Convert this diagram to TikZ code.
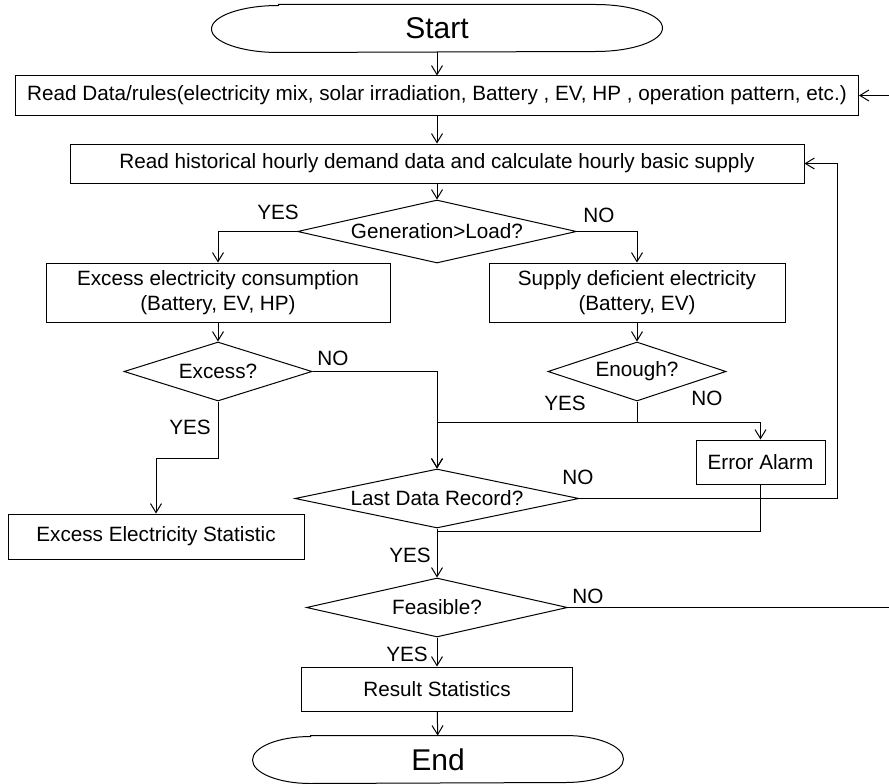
\documentclass[tikz,border=0pt]{standalone}
\usepackage{fontspec}
\setmainfont{Liberation Sans}
\usetikzlibrary{shapes.geometric, arrows.meta}

\newcommand{\lbl}{\fontsize{20.7pt}{25pt}\selectfont}
\newcommand{\termfont}{\fontsize{30pt}{30pt}\selectfont}
% outline of a start/end node: flat top and bottom, elliptic ends
\newcommand{\capsule}[2]{%
	\draw ([xshift=#2]#1.north west) -- ([xshift=-#2]#1.north east)
		arc[start angle=90, end angle=-90, x radius=#2, y radius=23.5pt]
		-- ([xshift=#2]#1.south west)
		arc[start angle=270, end angle=90, x radius=#2, y radius=23.5pt] -- cycle;}

\begin{document}
\begin{tikzpicture}[x=1pt, y=-1pt, line width=1pt, >={Straight Barb[length=9pt,width=11pt]}]
	\tikzstyle{box}=[draw, rectangle, inner sep=0pt, align=center, font=\lbl]
	\tikzstyle{dec}=[draw, diamond, inner sep=0pt, font=\lbl]
	\tikzstyle{term}=[rectangle, inner sep=0pt, minimum height=47pt, font=\termfont]
	\tikzstyle{tag}=[inner sep=0pt, font=\lbl]
	\useasboundingbox (0,0) rectangle (889,784);
	
		\node[term, minimum width=450pt] (start) at (437, 28.5) {Start};
		\capsule{start}{67pt}
		
		\node[box, minimum width=843pt, minimum height=39pt] (rd) at (437, 95.5) {Read Data/rules(electricity mix, solar irradiation, Battery , EV, HP , operation pattern, etc.)};
		\node[box, minimum width=734pt, minimum height=39pt] (hist) at (437, 163.5) {Read historical hourly demand data and calculate hourly basic supply};
		\node[dec, aspect=4.43, minimum width=279pt, minimum height=63pt] (gen) at (437, 231.5) {Generation>Load?};
		
		\node[box, minimum width=344pt, minimum height=59pt] (cons) at (218, 292.5) {Excess electricity consumption\\(Battery, EV, HP)};
		\node[box, minimum width=296pt, minimum height=59pt] (sup) at (637, 292.5) {Supply deficient electricity\\(Battery, EV)};
		
		\node[dec, aspect=3.19, minimum width=188pt, minimum height=59pt] (exc) at (218, 371.5) {Excess?};
		\node[dec, aspect=3.02, minimum width=178pt, minimum height=59pt] (enuf) at (637, 371.5) {Enough?};
		
		\node[box, minimum width=129pt, minimum height=44pt] (alarm) at (760.5, 462) {Error Alarm};
		\node[dec, aspect=4.81, minimum width=284pt, minimum height=59pt] (last) at (437, 498.5) {Last Data Record?};
		\node[box, minimum width=296pt, minimum height=45pt] (stat) at (156, 536.5) {Excess Electricity Statistic};
		
		\node[dec, aspect=4.42, minimum width=261pt, minimum height=59pt] (feas) at (437, 607.5) {Feasible?};
		\node[box, minimum width=271pt, minimum height=44pt] (res) at (437, 689) {Result Statistics};
		
		\node[term, minimum width=370pt] (stop) at (438, 759.5) {End};
		\capsule{stop}{58pt}
		
		\coordinate (rim) at (892, 0);
		
		%========================================================================
		% Labels
		\node[tag] (gy) at (278, 212) {YES};
		\node[tag] (gn) at (599, 215) {NO};
		\node[tag] (en) at (333, 358) {NO};
		\node[tag] (ey) at (190, 427) {YES};
		\node[tag] (uy) at (565, 403) {YES};
		\node[tag] (un) at (707, 398) {NO};
		\node[tag] (ln) at (578, 477) {NO};
		\node[tag] (ly) at (410, 555) {YES};
		\node[tag] (fn) at (588, 596) {NO};
		\node[tag] (fy) at (407, 654) {YES};
		
		%========================================================================
		% Arrows
		\draw[->] (start) -- (rd);
		\draw[->] (rd) -- (hist);
		\draw[->] (hist) -- (gen);
		
		\draw[->] (gen.west) -| (cons);
		\draw[->] (gen.east) -| (sup);
		\draw[->] (cons) -- (exc);
		\draw[->] (sup) -- (enuf);
		
		\draw[->] (exc.east) -| (last);
		\draw[->] (exc.south) -- ++(0,57) -| (stat);
		\draw[->] (enuf.south) -- ++(0,21) -| (last);
		\draw[->] (enuf.south) -- ++(0,21) -| (alarm);
		
		\draw[->] (last.east) -| ([xshift=33pt]hist.east) -- (hist.east);
		\draw (alarm.south) |- ([yshift=-3pt]last.south);
		\draw[->] (last) -- (feas);
		
		\draw[->] (feas.east) -| (rim |- rd.east) -- (rd.east);
		\draw[->] (feas) -- (res);
		\draw[->] (res) -- (stop);
	\end{tikzpicture}
\end{document}
